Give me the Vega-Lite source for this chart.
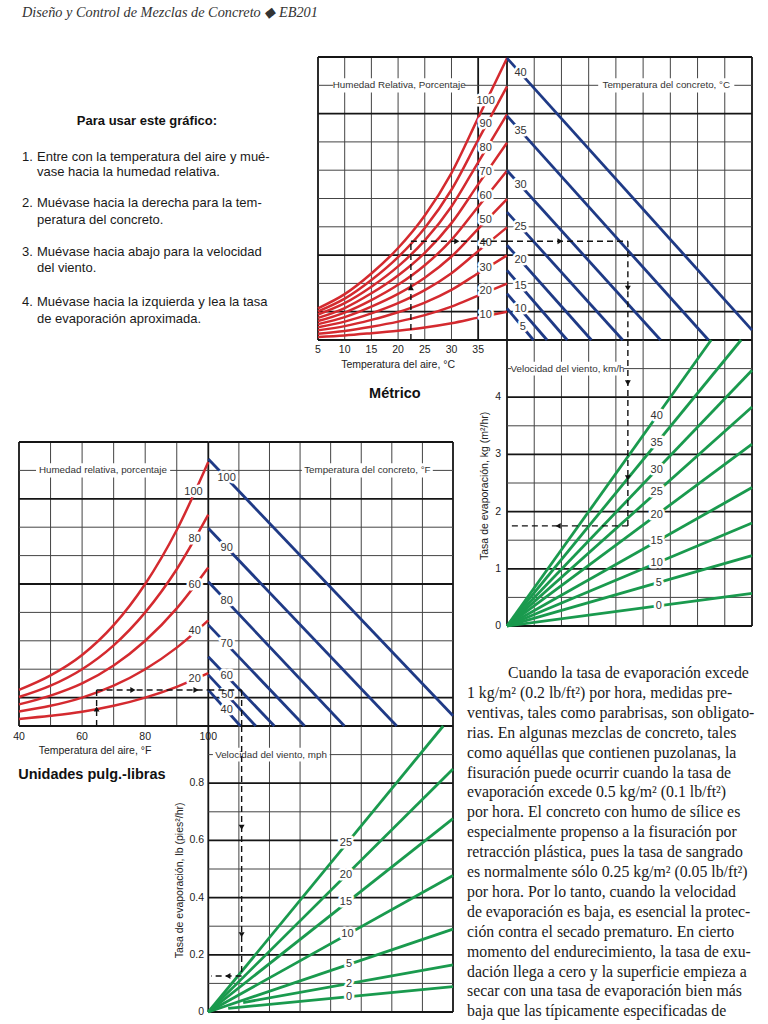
{
"$schema":"https://vega.github.io/schema/vega-lite/v6.json",
"width":768,"height":1024,"padding":0,"autosize":"none","background":"white",
"config":{"view":{"stroke":null},"text":{"font":"Liberation Sans","color":"#222"}},
"resolve":{"scale":{"x":"independent","y":"independent"}},
"layer":[
{"layer":[
{"data":{"values":[{"t":10},{"t":15},{"t":20},{"t":25},{"t":30}]},"mark":{"type":"rule","color":"#444","strokeWidth":1},
 "encoding":{"x":{"field":"t","type":"quantitative","scale":{"domain":[5,40.4],"range":[318,507],"nice":false,"zero":false},"axis":null},"y":{"datum":0,"type":"quantitative","scale":{"domain":[0,10],"range":[340,57],"nice":false,"zero":false},"axis":null},"y2":{"datum":10}}},
{"data":{"values":[{"t":5},{"t":35},{"t":40.4}]},"mark":{"type":"rule","color":"#151515","strokeWidth":1.8},
 "encoding":{"x":{"field":"t","type":"quantitative","scale":{"domain":[5,40.4],"range":[318,507],"nice":false,"zero":false},"axis":null},"y":{"datum":0,"type":"quantitative","scale":{"domain":[0,10],"range":[340,57],"nice":false,"zero":false},"axis":null},"y2":{"datum":10}}},
{"data":{"values":[{"v":2},{"v":4},{"v":5},{"v":6},{"v":7},{"v":9}]},"mark":{"type":"rule","color":"#444","strokeWidth":1},
 "encoding":{"y":{"field":"v","type":"quantitative","scale":{"domain":[0,10],"range":[340,57],"nice":false,"zero":false},"axis":null},"x":{"datum":5,"type":"quantitative","scale":{"domain":[5,40.4],"range":[318,507],"nice":false,"zero":false},"axis":null},"x2":{"datum":40.4}}},
{"data":{"values":[{"v":0},{"v":1},{"v":3},{"v":8},{"v":10}]},"mark":{"type":"rule","color":"#151515","strokeWidth":1.8},
 "encoding":{"y":{"field":"v","type":"quantitative","scale":{"domain":[0,10],"range":[340,57],"nice":false,"zero":false},"axis":null},"x":{"datum":5,"type":"quantitative","scale":{"domain":[5,40.4],"range":[318,507],"nice":false,"zero":false},"axis":null},"x2":{"datum":40.4}}},
{"data":{"values":[{"x1":7.8,"x2":32.5,"y1":8.75,"y2":9.25}]},"mark":{"type":"rect","fill":"white"},
 "encoding":{"x":{"field":"x1","type":"quantitative","scale":{"domain":[5,40.4],"range":[318,507],"nice":false,"zero":false},"axis":null},"x2":{"field":"x2"},"y":{"field":"y1","type":"quantitative","scale":{"domain":[0,10],"range":[340,57],"nice":false,"zero":false},"axis":null},"y2":{"field":"y2"}}},
{"data":{"values":[{"t":20.2,"v":9,"label":"Humedad Relativa, Porcentaje"}]},"mark":{"type":"text","fontSize":9.8,"color":"#333","baseline":"middle"},
 "encoding":{"x":{"field":"t","type":"quantitative","scale":{"domain":[5,40.4],"range":[318,507],"nice":false,"zero":false},"axis":null},"y":{"field":"v","type":"quantitative","scale":{"domain":[0,10],"range":[340,57],"nice":false,"zero":false},"axis":null},"text":{"field":"label"}}},
{"data":{"values":[
{"rh":100,"t":5,"v":1.12},{"rh":100,"t":10,"v":1.62},{"rh":100,"t":15,"v":2.35},{"rh":100,"t":20,"v":3.25},{"rh":100,"t":25,"v":4.40},{"rh":100,"t":30,"v":5.90},{"rh":100,"t":35,"v":7.85},{"rh":100,"t":40.4,"v":9.96},
{"rh":90,"t":5,"v":1.01},{"rh":90,"t":10,"v":1.46},{"rh":90,"t":15,"v":2.12},{"rh":90,"t":20,"v":2.93},{"rh":90,"t":25,"v":3.96},{"rh":90,"t":30,"v":5.31},{"rh":90,"t":35,"v":7.07},{"rh":90,"t":40.4,"v":8.96},
{"rh":80,"t":5,"v":0.90},{"rh":80,"t":10,"v":1.30},{"rh":80,"t":15,"v":1.88},{"rh":80,"t":20,"v":2.60},{"rh":80,"t":25,"v":3.52},{"rh":80,"t":30,"v":4.72},{"rh":80,"t":35,"v":6.28},{"rh":80,"t":40.4,"v":7.97},
{"rh":70,"t":5,"v":0.78},{"rh":70,"t":10,"v":1.13},{"rh":70,"t":15,"v":1.65},{"rh":70,"t":20,"v":2.28},{"rh":70,"t":25,"v":3.08},{"rh":70,"t":30,"v":4.13},{"rh":70,"t":35,"v":5.50},{"rh":70,"t":40.4,"v":6.97},
{"rh":60,"t":5,"v":0.67},{"rh":60,"t":10,"v":0.97},{"rh":60,"t":15,"v":1.41},{"rh":60,"t":20,"v":1.95},{"rh":60,"t":25,"v":2.64},{"rh":60,"t":30,"v":3.54},{"rh":60,"t":35,"v":4.71},{"rh":60,"t":40.4,"v":5.98},
{"rh":50,"t":5,"v":0.56},{"rh":50,"t":10,"v":0.81},{"rh":50,"t":15,"v":1.18},{"rh":50,"t":20,"v":1.63},{"rh":50,"t":25,"v":2.20},{"rh":50,"t":30,"v":2.95},{"rh":50,"t":35,"v":3.93},{"rh":50,"t":40.4,"v":4.98},
{"rh":40,"t":5,"v":0.45},{"rh":40,"t":10,"v":0.65},{"rh":40,"t":15,"v":0.94},{"rh":40,"t":20,"v":1.30},{"rh":40,"t":25,"v":1.76},{"rh":40,"t":30,"v":2.36},{"rh":40,"t":35,"v":3.14},{"rh":40,"t":40.4,"v":3.98},
{"rh":30,"t":5,"v":0.34},{"rh":30,"t":10,"v":0.49},{"rh":30,"t":15,"v":0.71},{"rh":30,"t":20,"v":0.98},{"rh":30,"t":25,"v":1.32},{"rh":30,"t":30,"v":1.77},{"rh":30,"t":35,"v":2.36},{"rh":30,"t":40.4,"v":2.99},
{"rh":20,"t":5,"v":0.22},{"rh":20,"t":10,"v":0.32},{"rh":20,"t":15,"v":0.47},{"rh":20,"t":20,"v":0.65},{"rh":20,"t":25,"v":0.88},{"rh":20,"t":30,"v":1.18},{"rh":20,"t":35,"v":1.57},{"rh":20,"t":40.4,"v":1.99},
{"rh":10,"t":5,"v":0.11},{"rh":10,"t":10,"v":0.16},{"rh":10,"t":15,"v":0.24},{"rh":10,"t":20,"v":0.33},{"rh":10,"t":25,"v":0.44},{"rh":10,"t":30,"v":0.59},{"rh":10,"t":35,"v":0.79},{"rh":10,"t":40.4,"v":1.00}
]},"mark":{"type":"line","color":"#d42a2f","strokeWidth":2.5,"interpolate":"monotone"},
 "encoding":{"x":{"field":"t","type":"quantitative","scale":{"domain":[5,40.4],"range":[318,507],"nice":false,"zero":false},"axis":null},"y":{"field":"v","type":"quantitative","scale":{"domain":[0,10],"range":[340,57],"nice":false,"zero":false},"axis":null},"detail":{"field":"rh"}}},
{"data":{"values":[{"t":36.4,"v":8.45,"label":"100"},{"t":36.4,"v":7.62,"label":"90"},{"t":36.4,"v":6.78,"label":"80"},{"t":36.4,"v":5.95,"label":"70"},{"t":36.4,"v":5.1,"label":"60"},{"t":36.4,"v":4.25,"label":"50"},{"t":36.4,"v":3.42,"label":"40"},{"t":36.4,"v":2.55,"label":"30"},{"t":36.4,"v":1.72,"label":"20"},{"t":36.4,"v":0.88,"label":"10"}]},
 "mark":{"type":"text","fontSize":11,"baseline":"middle","stroke":"white","strokeWidth":5,"strokeJoin":"round"},
 "encoding":{"x":{"field":"t","type":"quantitative","scale":{"domain":[5,40.4],"range":[318,507],"nice":false,"zero":false},"axis":null},"y":{"field":"v","type":"quantitative","scale":{"domain":[0,10],"range":[340,57],"nice":false,"zero":false},"axis":null},"text":{"field":"label"}}},
{"data":{"values":[{"t":36.4,"v":8.45,"label":"100"},{"t":36.4,"v":7.62,"label":"90"},{"t":36.4,"v":6.78,"label":"80"},{"t":36.4,"v":5.95,"label":"70"},{"t":36.4,"v":5.1,"label":"60"},{"t":36.4,"v":4.25,"label":"50"},{"t":36.4,"v":3.42,"label":"40"},{"t":36.4,"v":2.55,"label":"30"},{"t":36.4,"v":1.72,"label":"20"},{"t":36.4,"v":0.88,"label":"10"}]},
 "mark":{"type":"text","fontSize":11,"baseline":"middle","color":"#333"},
 "encoding":{"x":{"field":"t","type":"quantitative","scale":{"domain":[5,40.4],"range":[318,507],"nice":false,"zero":false},"axis":null},"y":{"field":"v","type":"quantitative","scale":{"domain":[0,10],"range":[340,57],"nice":false,"zero":false},"axis":null},"text":{"field":"label"}}},
{"data":{"values":[{"x1":22.4,"y1":0,"x2":22.4,"y2":3.49},{"x1":22.4,"y1":3.49,"x2":40.4,"y2":3.49}]},"mark":{"type":"rule","color":"#111","strokeWidth":1.4,"strokeDash":[6,4]},
 "encoding":{"x":{"field":"x1","type":"quantitative","scale":{"domain":[5,40.4],"range":[318,507],"nice":false,"zero":false},"axis":null},"x2":{"field":"x2"},"y":{"field":"y1","type":"quantitative","scale":{"domain":[0,10],"range":[340,57],"nice":false,"zero":false},"axis":null},"y2":{"field":"y2"}}},
{"data":{"values":[{"t":22.4,"v":1.85,"dir":"up"},{"t":31,"v":3.49,"dir":"right"}]},"mark":{"type":"point","filled":true,"color":"#111","size":35,"opacity":1},
 "encoding":{"x":{"field":"t","type":"quantitative","scale":{"domain":[5,40.4],"range":[318,507],"nice":false,"zero":false},"axis":null},"y":{"field":"v","type":"quantitative","scale":{"domain":[0,10],"range":[340,57],"nice":false,"zero":false},"axis":null},"shape":{"field":"dir","type":"nominal","scale":{"domain":["up","down","left","right"],"range":["triangle-up","triangle-down","triangle-left","triangle-right"]},"legend":null}}},
{"data":{"values":[{"t":5},{"t":10},{"t":15},{"t":20},{"t":25},{"t":30},{"t":35}]},"mark":{"type":"text","fontSize":10.5,"baseline":"middle"},
 "encoding":{"x":{"field":"t","type":"quantitative","scale":{"domain":[5,40.4],"range":[318,507],"nice":false,"zero":false},"axis":null},"y":{"datum":-0.37,"type":"quantitative","scale":{"domain":[0,10],"range":[340,57],"nice":false,"zero":false},"axis":null},"text":{"field":"t"}}},
{"data":{"values":[{"t":20,"v":-0.9,"label":"Temperatura del aire, °C"}]},"mark":{"type":"text","fontSize":10.5,"baseline":"middle"},
 "encoding":{"x":{"field":"t","type":"quantitative","scale":{"domain":[5,40.4],"range":[318,507],"nice":false,"zero":false},"axis":null},"y":{"field":"v","type":"quantitative","scale":{"domain":[0,10],"range":[340,57],"nice":false,"zero":false},"axis":null},"text":{"field":"label"}}},
{"data":{"values":[{"t":19.4,"v":-1.91,"label":"Métrico"}]},"mark":{"type":"text","fontSize":14.5,"fontWeight":"bold","baseline":"middle","color":"#111"},
 "encoding":{"x":{"field":"t","type":"quantitative","scale":{"domain":[5,40.4],"range":[318,507],"nice":false,"zero":false},"axis":null},"y":{"field":"v","type":"quantitative","scale":{"domain":[0,10],"range":[340,57],"nice":false,"zero":false},"axis":null},"text":{"field":"label"}}}
]},
{"layer":[
{"data":{"values":[{"c":1},{"c":2},{"c":3},{"c":4},{"c":5},{"c":6},{"c":7},{"c":8}]},"mark":{"type":"rule","color":"#444","strokeWidth":1},
 "encoding":{"x":{"field":"c","type":"quantitative","scale":{"domain":[0,9],"range":[507,752],"nice":false,"zero":false},"axis":null},"y":{"datum":0,"type":"quantitative","scale":{"domain":[0,10],"range":[340,57],"nice":false,"zero":false},"axis":null},"y2":{"datum":10}}},
{"data":{"values":[{"c":9}]},"mark":{"type":"rule","color":"#151515","strokeWidth":1.8},
 "encoding":{"x":{"field":"c","type":"quantitative","scale":{"domain":[0,9],"range":[507,752],"nice":false,"zero":false},"axis":null},"y":{"datum":0,"type":"quantitative","scale":{"domain":[0,10],"range":[340,57],"nice":false,"zero":false},"axis":null},"y2":{"datum":10}}},
{"data":{"values":[{"v":2},{"v":4},{"v":5},{"v":6},{"v":7},{"v":9}]},"mark":{"type":"rule","color":"#444","strokeWidth":1},
 "encoding":{"y":{"field":"v","type":"quantitative","scale":{"domain":[0,10],"range":[340,57],"nice":false,"zero":false},"axis":null},"x":{"datum":0,"type":"quantitative","scale":{"domain":[0,9],"range":[507,752],"nice":false,"zero":false},"axis":null},"x2":{"datum":9}}},
{"data":{"values":[{"v":0},{"v":1},{"v":3},{"v":8},{"v":10}]},"mark":{"type":"rule","color":"#151515","strokeWidth":1.8},
 "encoding":{"y":{"field":"v","type":"quantitative","scale":{"domain":[0,10],"range":[340,57],"nice":false,"zero":false},"axis":null},"x":{"datum":0,"type":"quantitative","scale":{"domain":[0,9],"range":[507,752],"nice":false,"zero":false},"axis":null},"x2":{"datum":9}}},
{"data":{"values":[{"x1":3.35,"x2":8.35,"y1":8.75,"y2":9.25}]},"mark":{"type":"rect","fill":"white"},
 "encoding":{"x":{"field":"x1","type":"quantitative","scale":{"domain":[0,9],"range":[507,752],"nice":false,"zero":false},"axis":null},"x2":{"field":"x2"},"y":{"field":"y1","type":"quantitative","scale":{"domain":[0,10],"range":[340,57],"nice":false,"zero":false},"axis":null},"y2":{"field":"y2"}}},
{"data":{"values":[{"c":5.85,"v":9,"label":"Temperatura del concreto, °C"}]},"mark":{"type":"text","fontSize":9.8,"color":"#333","baseline":"middle"},
 "encoding":{"x":{"field":"c","type":"quantitative","scale":{"domain":[0,9],"range":[507,752],"nice":false,"zero":false},"axis":null},"y":{"field":"v","type":"quantitative","scale":{"domain":[0,10],"range":[340,57],"nice":false,"zero":false},"axis":null},"text":{"field":"label"}}},
{"data":{"values":[
{"tc":5,"c":0,"v":1.12},{"tc":5,"c":0.97,"v":0},
{"tc":10,"c":0,"v":1.64},{"tc":10,"c":1.47,"v":0},
{"tc":15,"c":0,"v":2.46},{"tc":15,"c":2.21,"v":0},
{"tc":20,"c":0,"v":3.35},{"tc":20,"c":3.10,"v":0},
{"tc":25,"c":0,"v":4.52},{"tc":25,"c":4.25,"v":0},
{"tc":30,"c":0,"v":5.99},{"tc":30,"c":5.64,"v":0},
{"tc":35,"c":0,"v":7.92},{"tc":35,"c":7.40,"v":0},
{"tc":40,"c":0,"v":9.96},{"tc":40,"c":9,"v":0.35}
]},"mark":{"type":"line","color":"#1f3a86","strokeWidth":2.8},
 "encoding":{"x":{"field":"c","type":"quantitative","scale":{"domain":[0,9],"range":[507,752],"nice":false,"zero":false},"axis":null},"y":{"field":"v","type":"quantitative","scale":{"domain":[0,10],"range":[340,57],"nice":false,"zero":false},"axis":null},"detail":{"field":"tc"}}},
{"data":{"values":[{"c":0.5,"v":9.43,"label":"40"},{"c":0.5,"v":7.39,"label":"35"},{"c":0.5,"v":5.46,"label":"30"},{"c":0.5,"v":3.99,"label":"25"},{"c":0.5,"v":2.81,"label":"20"},{"c":0.5,"v":1.9,"label":"15"},{"c":0.5,"v":1.08,"label":"10"},{"c":0.58,"v":0.47,"label":"5"}]},
 "mark":{"type":"text","fontSize":11,"baseline":"middle","stroke":"white","strokeWidth":5,"strokeJoin":"round"},
 "encoding":{"x":{"field":"c","type":"quantitative","scale":{"domain":[0,9],"range":[507,752],"nice":false,"zero":false},"axis":null},"y":{"field":"v","type":"quantitative","scale":{"domain":[0,10],"range":[340,57],"nice":false,"zero":false},"axis":null},"text":{"field":"label"}}},
{"data":{"values":[{"c":0.5,"v":9.43,"label":"40"},{"c":0.5,"v":7.39,"label":"35"},{"c":0.5,"v":5.46,"label":"30"},{"c":0.5,"v":3.99,"label":"25"},{"c":0.5,"v":2.81,"label":"20"},{"c":0.5,"v":1.9,"label":"15"},{"c":0.5,"v":1.08,"label":"10"},{"c":0.58,"v":0.47,"label":"5"}]},
 "mark":{"type":"text","fontSize":11,"baseline":"middle","color":"#333"},
 "encoding":{"x":{"field":"c","type":"quantitative","scale":{"domain":[0,9],"range":[507,752],"nice":false,"zero":false},"axis":null},"y":{"field":"v","type":"quantitative","scale":{"domain":[0,10],"range":[340,57],"nice":false,"zero":false},"axis":null},"text":{"field":"label"}}},
{"data":{"values":[{"x1":0,"y1":3.49,"x2":4.44,"y2":3.49},{"x1":4.44,"y1":3.49,"x2":4.44,"y2":0}]},"mark":{"type":"rule","color":"#111","strokeWidth":1.4,"strokeDash":[6,4]},
 "encoding":{"x":{"field":"x1","type":"quantitative","scale":{"domain":[0,9],"range":[507,752],"nice":false,"zero":false},"axis":null},"x2":{"field":"x2"},"y":{"field":"y1","type":"quantitative","scale":{"domain":[0,10],"range":[340,57],"nice":false,"zero":false},"axis":null},"y2":{"field":"y2"}}},
{"data":{"values":[{"c":1.95,"v":3.49,"dir":"right"},{"c":4.44,"v":1.83,"dir":"down"}]},"mark":{"type":"point","filled":true,"color":"#111","size":35,"opacity":1},
 "encoding":{"x":{"field":"c","type":"quantitative","scale":{"domain":[0,9],"range":[507,752],"nice":false,"zero":false},"axis":null},"y":{"field":"v","type":"quantitative","scale":{"domain":[0,10],"range":[340,57],"nice":false,"zero":false},"axis":null},"shape":{"field":"dir","type":"nominal","scale":{"domain":["up","down","left","right"],"range":["triangle-up","triangle-down","triangle-left","triangle-right"]},"legend":null}}}
]},
{"layer":[
{"data":{"values":[{"c":1},{"c":2},{"c":3},{"c":4},{"c":5},{"c":6},{"c":7},{"c":8}]},"mark":{"type":"rule","color":"#444","strokeWidth":1},
 "encoding":{"x":{"field":"c","type":"quantitative","scale":{"domain":[0,9],"range":[507,752],"nice":false,"zero":false},"axis":null},"y":{"datum":0,"type":"quantitative","scale":{"domain":[0,5],"range":[626,340],"nice":false,"zero":false},"axis":null},"y2":{"datum":5}}},
{"data":{"values":[{"c":0},{"c":9}]},"mark":{"type":"rule","color":"#151515","strokeWidth":1.8},
 "encoding":{"x":{"field":"c","type":"quantitative","scale":{"domain":[0,9],"range":[507,752],"nice":false,"zero":false},"axis":null},"y":{"datum":0,"type":"quantitative","scale":{"domain":[0,5],"range":[626,340],"nice":false,"zero":false},"axis":null},"y2":{"datum":5}}},
{"data":{"values":[{"v":0.5},{"v":1.5},{"v":2.5},{"v":3.5},{"v":4.5}]},"mark":{"type":"rule","color":"#444","strokeWidth":1},
 "encoding":{"y":{"field":"v","type":"quantitative","scale":{"domain":[0,5],"range":[626,340],"nice":false,"zero":false},"axis":null},"x":{"datum":0,"type":"quantitative","scale":{"domain":[0,9],"range":[507,752],"nice":false,"zero":false},"axis":null},"x2":{"datum":9}}},
{"data":{"values":[{"v":0},{"v":1},{"v":2},{"v":3},{"v":4}]},"mark":{"type":"rule","color":"#151515","strokeWidth":1.8},
 "encoding":{"y":{"field":"v","type":"quantitative","scale":{"domain":[0,5],"range":[626,340],"nice":false,"zero":false},"axis":null},"x":{"datum":0,"type":"quantitative","scale":{"domain":[0,9],"range":[507,752],"nice":false,"zero":false},"axis":null},"x2":{"datum":9}}},
{"data":{"values":[{"x1":0.15,"x2":4.3,"y1":4.38,"y2":4.62}]},"mark":{"type":"rect","fill":"white"},
 "encoding":{"x":{"field":"x1","type":"quantitative","scale":{"domain":[0,9],"range":[507,752],"nice":false,"zero":false},"axis":null},"x2":{"field":"x2"},"y":{"field":"y1","type":"quantitative","scale":{"domain":[0,5],"range":[626,340],"nice":false,"zero":false},"axis":null},"y2":{"field":"y2"}}},
{"data":{"values":[{"c":2.22,"v":4.5,"label":"Velocidad del viento, km/h"}]},"mark":{"type":"text","fontSize":9.8,"color":"#333","baseline":"middle"},
 "encoding":{"x":{"field":"c","type":"quantitative","scale":{"domain":[0,9],"range":[507,752],"nice":false,"zero":false},"axis":null},"y":{"field":"v","type":"quantitative","scale":{"domain":[0,5],"range":[626,340],"nice":false,"zero":false},"axis":null},"text":{"field":"label"}}},
{"data":{"values":[
{"w":0,"c":0,"v":0},{"w":0,"c":9,"v":0.57},
{"w":5,"c":0,"v":0},{"w":5,"c":9,"v":1.23},
{"w":10,"c":0,"v":0},{"w":10,"c":9,"v":1.80},
{"w":15,"c":0,"v":0},{"w":15,"c":9,"v":2.42},
{"w":20,"c":0,"v":0},{"w":20,"c":9,"v":3.18},
{"w":25,"c":0,"v":0},{"w":25,"c":9,"v":3.83},
{"w":30,"c":0,"v":0},{"w":30,"c":9,"v":4.47},
{"w":35,"c":0,"v":0},{"w":35,"c":8.6,"v":5.0},
{"w":40,"c":0,"v":0},{"w":40,"c":7.5,"v":5.0}
]},"mark":{"type":"line","color":"#1a9a4e","strokeWidth":2.8},
 "encoding":{"x":{"field":"c","type":"quantitative","scale":{"domain":[0,9],"range":[507,752],"nice":false,"zero":false},"axis":null},"y":{"field":"v","type":"quantitative","scale":{"domain":[0,5],"range":[626,340],"nice":false,"zero":false},"axis":null},"detail":{"field":"w"}}},
{"data":{"values":[{"c":5.5,"v":3.67,"label":"40"},{"c":5.5,"v":3.2,"label":"35"},{"c":5.5,"v":2.73,"label":"30"},{"c":5.5,"v":2.34,"label":"25"},{"c":5.5,"v":1.94,"label":"20"},{"c":5.5,"v":1.48,"label":"15"},{"c":5.5,"v":1.1,"label":"10"},{"c":5.58,"v":0.76,"label":"5"},{"c":5.58,"v":0.35,"label":"0"}]},
 "mark":{"type":"text","fontSize":11,"baseline":"middle","stroke":"white","strokeWidth":5,"strokeJoin":"round"},
 "encoding":{"x":{"field":"c","type":"quantitative","scale":{"domain":[0,9],"range":[507,752],"nice":false,"zero":false},"axis":null},"y":{"field":"v","type":"quantitative","scale":{"domain":[0,5],"range":[626,340],"nice":false,"zero":false},"axis":null},"text":{"field":"label"}}},
{"data":{"values":[{"c":5.5,"v":3.67,"label":"40"},{"c":5.5,"v":3.2,"label":"35"},{"c":5.5,"v":2.73,"label":"30"},{"c":5.5,"v":2.34,"label":"25"},{"c":5.5,"v":1.94,"label":"20"},{"c":5.5,"v":1.48,"label":"15"},{"c":5.5,"v":1.1,"label":"10"},{"c":5.58,"v":0.76,"label":"5"},{"c":5.58,"v":0.35,"label":"0"}]},
 "mark":{"type":"text","fontSize":11,"baseline":"middle","color":"#333"},
 "encoding":{"x":{"field":"c","type":"quantitative","scale":{"domain":[0,9],"range":[507,752],"nice":false,"zero":false},"axis":null},"y":{"field":"v","type":"quantitative","scale":{"domain":[0,5],"range":[626,340],"nice":false,"zero":false},"axis":null},"text":{"field":"label"}}},
{"data":{"values":[{"v":0},{"v":1},{"v":2},{"v":3},{"v":4}]},"mark":{"type":"text","fontSize":10.5,"baseline":"middle","align":"right"},
 "encoding":{"y":{"field":"v","type":"quantitative","scale":{"domain":[0,5],"range":[626,340],"nice":false,"zero":false},"axis":null},"x":{"datum":-0.22,"type":"quantitative","scale":{"domain":[0,9],"range":[507,752],"nice":false,"zero":false},"axis":null},"text":{"field":"v"}}},
{"data":{"values":[{"c":-0.81,"v":2.45,"label":"Tasa de evaporación, kg (m²/hr)"}]},"mark":{"type":"text","fontSize":10.5,"baseline":"middle","angle":270},
 "encoding":{"x":{"field":"c","type":"quantitative","scale":{"domain":[0,9],"range":[507,752],"nice":false,"zero":false},"axis":null},"y":{"field":"v","type":"quantitative","scale":{"domain":[0,5],"range":[626,340],"nice":false,"zero":false},"axis":null},"text":{"field":"label"}}},
{"data":{"values":[{"x1":4.44,"y1":5,"x2":4.44,"y2":1.75},{"x1":4.44,"y1":1.75,"x2":0.17,"y2":1.75}]},"mark":{"type":"rule","color":"#111","strokeWidth":1.4,"strokeDash":[6,4]},
 "encoding":{"x":{"field":"x1","type":"quantitative","scale":{"domain":[0,9],"range":[507,752],"nice":false,"zero":false},"axis":null},"x2":{"field":"x2"},"y":{"field":"y1","type":"quantitative","scale":{"domain":[0,5],"range":[626,340],"nice":false,"zero":false},"axis":null},"y2":{"field":"y2"}}},
{"data":{"values":[{"c":4.44,"v":4.25,"dir":"down"},{"c":4.44,"v":2.59,"dir":"down"},{"c":1.88,"v":1.75,"dir":"left"}]},"mark":{"type":"point","filled":true,"color":"#111","size":35,"opacity":1},
 "encoding":{"x":{"field":"c","type":"quantitative","scale":{"domain":[0,9],"range":[507,752],"nice":false,"zero":false},"axis":null},"y":{"field":"v","type":"quantitative","scale":{"domain":[0,5],"range":[626,340],"nice":false,"zero":false},"axis":null},"shape":{"field":"dir","type":"nominal","scale":{"domain":["up","down","left","right"],"range":["triangle-up","triangle-down","triangle-left","triangle-right"]},"legend":null}}}
]},
{"layer":[
{"data":{"values":[{"t":50},{"t":60},{"t":70},{"t":80},{"t":90}]},"mark":{"type":"rule","color":"#444","strokeWidth":1},
 "encoding":{"x":{"field":"t","type":"quantitative","scale":{"domain":[40,100],"range":[19,208.3],"nice":false,"zero":false},"axis":null},"y":{"datum":0,"type":"quantitative","scale":{"domain":[0,10],"range":[726,442],"nice":false,"zero":false},"axis":null},"y2":{"datum":10}}},
{"data":{"values":[{"t":40},{"t":100}]},"mark":{"type":"rule","color":"#151515","strokeWidth":1.8},
 "encoding":{"x":{"field":"t","type":"quantitative","scale":{"domain":[40,100],"range":[19,208.3],"nice":false,"zero":false},"axis":null},"y":{"datum":0,"type":"quantitative","scale":{"domain":[0,10],"range":[726,442],"nice":false,"zero":false},"axis":null},"y2":{"datum":10}}},
{"data":{"values":[{"v":2},{"v":3},{"v":4},{"v":6},{"v":7},{"v":9}]},"mark":{"type":"rule","color":"#444","strokeWidth":1},
 "encoding":{"y":{"field":"v","type":"quantitative","scale":{"domain":[0,10],"range":[726,442],"nice":false,"zero":false},"axis":null},"x":{"datum":40,"type":"quantitative","scale":{"domain":[40,100],"range":[19,208.3],"nice":false,"zero":false},"axis":null},"x2":{"datum":100}}},
{"data":{"values":[{"v":0},{"v":1},{"v":5},{"v":8},{"v":10}]},"mark":{"type":"rule","color":"#151515","strokeWidth":1.8},
 "encoding":{"y":{"field":"v","type":"quantitative","scale":{"domain":[0,10],"range":[726,442],"nice":false,"zero":false},"axis":null},"x":{"datum":40,"type":"quantitative","scale":{"domain":[40,100],"range":[19,208.3],"nice":false,"zero":false},"axis":null},"x2":{"datum":100}}},
{"data":{"values":[{"x1":45.4,"x2":87.9,"y1":8.75,"y2":9.25}]},"mark":{"type":"rect","fill":"white"},
 "encoding":{"x":{"field":"x1","type":"quantitative","scale":{"domain":[40,100],"range":[19,208.3],"nice":false,"zero":false},"axis":null},"x2":{"field":"x2"},"y":{"field":"y1","type":"quantitative","scale":{"domain":[0,10],"range":[726,442],"nice":false,"zero":false},"axis":null},"y2":{"field":"y2"}}},
{"data":{"values":[{"t":66.6,"v":9,"label":"Humedad relativa, porcentaje"}]},"mark":{"type":"text","fontSize":9.8,"color":"#333","baseline":"middle"},
 "encoding":{"x":{"field":"t","type":"quantitative","scale":{"domain":[40,100],"range":[19,208.3],"nice":false,"zero":false},"axis":null},"y":{"field":"v","type":"quantitative","scale":{"domain":[0,10],"range":[726,442],"nice":false,"zero":false},"axis":null},"text":{"field":"label"}}},
{"data":{"values":[
{"rh":100,"t":40,"v":1.27},{"rh":100,"t":50,"v":1.78},{"rh":100,"t":60,"v":2.50},{"rh":100,"t":70,"v":3.55},{"rh":100,"t":80,"v":5.00},{"rh":100,"t":90,"v":6.90},{"rh":100,"t":100,"v":9.30},
{"rh":80,"t":40,"v":1.02},{"rh":80,"t":50,"v":1.42},{"rh":80,"t":60,"v":2.00},{"rh":80,"t":70,"v":2.84},{"rh":80,"t":80,"v":4.00},{"rh":80,"t":90,"v":5.52},{"rh":80,"t":100,"v":7.44},
{"rh":60,"t":40,"v":0.76},{"rh":60,"t":50,"v":1.07},{"rh":60,"t":60,"v":1.50},{"rh":60,"t":70,"v":2.13},{"rh":60,"t":80,"v":3.00},{"rh":60,"t":90,"v":4.14},{"rh":60,"t":100,"v":5.58},
{"rh":40,"t":40,"v":0.51},{"rh":40,"t":50,"v":0.71},{"rh":40,"t":60,"v":1.00},{"rh":40,"t":70,"v":1.42},{"rh":40,"t":80,"v":2.00},{"rh":40,"t":90,"v":2.76},{"rh":40,"t":100,"v":3.72},
{"rh":20,"t":40,"v":0.25},{"rh":20,"t":50,"v":0.36},{"rh":20,"t":60,"v":0.50},{"rh":20,"t":70,"v":0.71},{"rh":20,"t":80,"v":1.00},{"rh":20,"t":90,"v":1.38},{"rh":20,"t":100,"v":1.86}
]},"mark":{"type":"line","color":"#d42a2f","strokeWidth":2.5,"interpolate":"monotone"},
 "encoding":{"x":{"field":"t","type":"quantitative","scale":{"domain":[40,100],"range":[19,208.3],"nice":false,"zero":false},"axis":null},"y":{"field":"v","type":"quantitative","scale":{"domain":[0,10],"range":[726,442],"nice":false,"zero":false},"axis":null},"detail":{"field":"rh"}}},
{"data":{"values":[{"t":95.3,"v":8.25,"label":"100"},{"t":95.7,"v":6.6,"label":"80"},{"t":95.7,"v":4.95,"label":"60"},{"t":95.7,"v":3.35,"label":"40"},{"t":95.7,"v":1.65,"label":"20"}]},
 "mark":{"type":"text","fontSize":11,"baseline":"middle","stroke":"white","strokeWidth":5,"strokeJoin":"round"},
 "encoding":{"x":{"field":"t","type":"quantitative","scale":{"domain":[40,100],"range":[19,208.3],"nice":false,"zero":false},"axis":null},"y":{"field":"v","type":"quantitative","scale":{"domain":[0,10],"range":[726,442],"nice":false,"zero":false},"axis":null},"text":{"field":"label"}}},
{"data":{"values":[{"t":95.3,"v":8.25,"label":"100"},{"t":95.7,"v":6.6,"label":"80"},{"t":95.7,"v":4.95,"label":"60"},{"t":95.7,"v":3.35,"label":"40"},{"t":95.7,"v":1.65,"label":"20"}]},
 "mark":{"type":"text","fontSize":11,"baseline":"middle","color":"#333"},
 "encoding":{"x":{"field":"t","type":"quantitative","scale":{"domain":[40,100],"range":[19,208.3],"nice":false,"zero":false},"axis":null},"y":{"field":"v","type":"quantitative","scale":{"domain":[0,10],"range":[726,442],"nice":false,"zero":false},"axis":null},"text":{"field":"label"}}},
{"data":{"values":[{"x1":64.6,"y1":0,"x2":64.6,"y2":1.27},{"x1":64.6,"y1":1.27,"x2":100,"y2":1.27}]},"mark":{"type":"rule","color":"#111","strokeWidth":1.4,"strokeDash":[6,4]},
 "encoding":{"x":{"field":"x1","type":"quantitative","scale":{"domain":[40,100],"range":[19,208.3],"nice":false,"zero":false},"axis":null},"x2":{"field":"x2"},"y":{"field":"y1","type":"quantitative","scale":{"domain":[0,10],"range":[726,442],"nice":false,"zero":false},"axis":null},"y2":{"field":"y2"}}},
{"data":{"values":[{"t":64.6,"v":0.6,"dir":"up"},{"t":76.1,"v":1.27,"dir":"right"},{"t":96.1,"v":1.27,"dir":"right"}]},"mark":{"type":"point","filled":true,"color":"#111","size":35,"opacity":1},
 "encoding":{"x":{"field":"t","type":"quantitative","scale":{"domain":[40,100],"range":[19,208.3],"nice":false,"zero":false},"axis":null},"y":{"field":"v","type":"quantitative","scale":{"domain":[0,10],"range":[726,442],"nice":false,"zero":false},"axis":null},"shape":{"field":"dir","type":"nominal","scale":{"domain":["up","down","left","right"],"range":["triangle-up","triangle-down","triangle-left","triangle-right"]},"legend":null}}},
{"data":{"values":[{"t":40},{"t":60},{"t":80},{"t":100}]},"mark":{"type":"text","fontSize":10.5,"baseline":"middle"},
 "encoding":{"x":{"field":"t","type":"quantitative","scale":{"domain":[40,100],"range":[19,208.3],"nice":false,"zero":false},"axis":null},"y":{"datum":-0.37,"type":"quantitative","scale":{"domain":[0,10],"range":[726,442],"nice":false,"zero":false},"axis":null},"text":{"field":"t"}}},
{"data":{"values":[{"t":64.1,"v":-0.87,"label":"Temperatura del aire, °F"}]},"mark":{"type":"text","fontSize":10.5,"baseline":"middle"},
 "encoding":{"x":{"field":"t","type":"quantitative","scale":{"domain":[40,100],"range":[19,208.3],"nice":false,"zero":false},"axis":null},"y":{"field":"v","type":"quantitative","scale":{"domain":[0,10],"range":[726,442],"nice":false,"zero":false},"axis":null},"text":{"field":"label"}}},
{"data":{"values":[{"t":63.1,"v":-1.73,"label":"Unidades pulg.-libras"}]},"mark":{"type":"text","fontSize":14.5,"fontWeight":"bold","baseline":"middle","color":"#111"},
 "encoding":{"x":{"field":"t","type":"quantitative","scale":{"domain":[40,100],"range":[19,208.3],"nice":false,"zero":false},"axis":null},"y":{"field":"v","type":"quantitative","scale":{"domain":[0,10],"range":[726,442],"nice":false,"zero":false},"axis":null},"text":{"field":"label"}}}
]},
{"layer":[
{"data":{"values":[{"c":1},{"c":2},{"c":3},{"c":4},{"c":5},{"c":6},{"c":7}]},"mark":{"type":"rule","color":"#444","strokeWidth":1},
 "encoding":{"x":{"field":"c","type":"quantitative","scale":{"domain":[0,8],"range":[208.3,453],"nice":false,"zero":false},"axis":null},"y":{"datum":0,"type":"quantitative","scale":{"domain":[0,10],"range":[726,442],"nice":false,"zero":false},"axis":null},"y2":{"datum":10}}},
{"data":{"values":[{"c":8}]},"mark":{"type":"rule","color":"#151515","strokeWidth":1.8},
 "encoding":{"x":{"field":"c","type":"quantitative","scale":{"domain":[0,8],"range":[208.3,453],"nice":false,"zero":false},"axis":null},"y":{"datum":0,"type":"quantitative","scale":{"domain":[0,10],"range":[726,442],"nice":false,"zero":false},"axis":null},"y2":{"datum":10}}},
{"data":{"values":[{"v":2},{"v":3},{"v":4},{"v":6},{"v":7},{"v":9}]},"mark":{"type":"rule","color":"#444","strokeWidth":1},
 "encoding":{"y":{"field":"v","type":"quantitative","scale":{"domain":[0,10],"range":[726,442],"nice":false,"zero":false},"axis":null},"x":{"datum":0,"type":"quantitative","scale":{"domain":[0,8],"range":[208.3,453],"nice":false,"zero":false},"axis":null},"x2":{"datum":8}}},
{"data":{"values":[{"v":0},{"v":1},{"v":5},{"v":8},{"v":10}]},"mark":{"type":"rule","color":"#151515","strokeWidth":1.8},
 "encoding":{"y":{"field":"v","type":"quantitative","scale":{"domain":[0,10],"range":[726,442],"nice":false,"zero":false},"axis":null},"x":{"datum":0,"type":"quantitative","scale":{"domain":[0,8],"range":[208.3,453],"nice":false,"zero":false},"axis":null},"x2":{"datum":8}}},
{"data":{"values":[{"x1":3.06,"x2":7.34,"y1":8.75,"y2":9.25}]},"mark":{"type":"rect","fill":"white"},
 "encoding":{"x":{"field":"x1","type":"quantitative","scale":{"domain":[0,8],"range":[208.3,453],"nice":false,"zero":false},"axis":null},"x2":{"field":"x2"},"y":{"field":"y1","type":"quantitative","scale":{"domain":[0,10],"range":[726,442],"nice":false,"zero":false},"axis":null},"y2":{"field":"y2"}}},
{"data":{"values":[{"c":5.2,"v":9,"label":"Temperatura del concreto, °F"}]},"mark":{"type":"text","fontSize":9.8,"color":"#333","baseline":"middle"},
 "encoding":{"x":{"field":"c","type":"quantitative","scale":{"domain":[0,8],"range":[208.3,453],"nice":false,"zero":false},"axis":null},"y":{"field":"v","type":"quantitative","scale":{"domain":[0,10],"range":[726,442],"nice":false,"zero":false},"axis":null},"text":{"field":"label"}}},
{"data":{"values":[
{"tc":100,"c":0,"v":9.4},{"tc":100,"c":8,"v":0.36},
{"tc":90,"c":0,"v":6.96},{"tc":90,"c":6.16,"v":0},
{"tc":80,"c":0,"v":5.08},{"tc":80,"c":4.45,"v":0},
{"tc":70,"c":0,"v":3.56},{"tc":70,"c":3.15,"v":0},
{"tc":60,"c":0,"v":2.44},{"tc":60,"c":2.16,"v":0},
{"tc":50,"c":0,"v":1.8},{"tc":50,"c":1.55,"v":0},
{"tc":40,"c":0,"v":1.27},{"tc":40,"c":1.05,"v":0}
]},"mark":{"type":"line","color":"#1f3a86","strokeWidth":2.8},
 "encoding":{"x":{"field":"c","type":"quantitative","scale":{"domain":[0,8],"range":[208.3,453],"nice":false,"zero":false},"axis":null},"y":{"field":"v","type":"quantitative","scale":{"domain":[0,10],"range":[726,442],"nice":false,"zero":false},"axis":null},"detail":{"field":"tc"}}},
{"data":{"values":[{"c":0.6,"v":8.72,"label":"100"},{"c":0.6,"v":6.28,"label":"90"},{"c":0.6,"v":4.4,"label":"80"},{"c":0.6,"v":2.88,"label":"70"},{"c":0.6,"v":1.76,"label":"60"},{"c":0.62,"v":1.1,"label":"50"},{"c":0.6,"v":0.55,"label":"40"}]},
 "mark":{"type":"text","fontSize":11,"baseline":"middle","stroke":"white","strokeWidth":5,"strokeJoin":"round"},
 "encoding":{"x":{"field":"c","type":"quantitative","scale":{"domain":[0,8],"range":[208.3,453],"nice":false,"zero":false},"axis":null},"y":{"field":"v","type":"quantitative","scale":{"domain":[0,10],"range":[726,442],"nice":false,"zero":false},"axis":null},"text":{"field":"label"}}},
{"data":{"values":[{"c":0.6,"v":8.72,"label":"100"},{"c":0.6,"v":6.28,"label":"90"},{"c":0.6,"v":4.4,"label":"80"},{"c":0.6,"v":2.88,"label":"70"},{"c":0.6,"v":1.76,"label":"60"},{"c":0.62,"v":1.1,"label":"50"},{"c":0.6,"v":0.55,"label":"40"}]},
 "mark":{"type":"text","fontSize":11,"baseline":"middle","color":"#333"},
 "encoding":{"x":{"field":"c","type":"quantitative","scale":{"domain":[0,8],"range":[208.3,453],"nice":false,"zero":false},"axis":null},"y":{"field":"v","type":"quantitative","scale":{"domain":[0,10],"range":[726,442],"nice":false,"zero":false},"axis":null},"text":{"field":"label"}}},
{"data":{"values":[{"x1":0,"y1":1.27,"x2":1.09,"y2":1.27},{"x1":1.09,"y1":1.27,"x2":1.09,"y2":0}]},"mark":{"type":"rule","color":"#111","strokeWidth":1.4,"strokeDash":[6,4]},
 "encoding":{"x":{"field":"x1","type":"quantitative","scale":{"domain":[0,8],"range":[208.3,453],"nice":false,"zero":false},"axis":null},"x2":{"field":"x2"},"y":{"field":"y1","type":"quantitative","scale":{"domain":[0,10],"range":[726,442],"nice":false,"zero":false},"axis":null},"y2":{"field":"y2"}}}
]},
{"layer":[
{"data":{"values":[{"c":1},{"c":2},{"c":3},{"c":4},{"c":5},{"c":6},{"c":7}]},"mark":{"type":"rule","color":"#444","strokeWidth":1},
 "encoding":{"x":{"field":"c","type":"quantitative","scale":{"domain":[0,8],"range":[208.3,453],"nice":false,"zero":false},"axis":null},"y":{"datum":0,"type":"quantitative","scale":{"domain":[0,1],"range":[1012,726],"nice":false,"zero":false},"axis":null},"y2":{"datum":1}}},
{"data":{"values":[{"c":0},{"c":8}]},"mark":{"type":"rule","color":"#151515","strokeWidth":1.8},
 "encoding":{"x":{"field":"c","type":"quantitative","scale":{"domain":[0,8],"range":[208.3,453],"nice":false,"zero":false},"axis":null},"y":{"datum":0,"type":"quantitative","scale":{"domain":[0,1],"range":[1012,726],"nice":false,"zero":false},"axis":null},"y2":{"datum":1}}},
{"data":{"values":[{"v":0.1},{"v":0.3},{"v":0.5},{"v":0.7},{"v":0.9}]},"mark":{"type":"rule","color":"#444","strokeWidth":1},
 "encoding":{"y":{"field":"v","type":"quantitative","scale":{"domain":[0,1],"range":[1012,726],"nice":false,"zero":false},"axis":null},"x":{"datum":0,"type":"quantitative","scale":{"domain":[0,8],"range":[208.3,453],"nice":false,"zero":false},"axis":null},"x2":{"datum":8}}},
{"data":{"values":[{"v":0},{"v":0.2},{"v":0.4},{"v":0.6},{"v":0.8}]},"mark":{"type":"rule","color":"#151515","strokeWidth":1.8},
 "encoding":{"y":{"field":"v","type":"quantitative","scale":{"domain":[0,1],"range":[1012,726],"nice":false,"zero":false},"axis":null},"x":{"datum":0,"type":"quantitative","scale":{"domain":[0,8],"range":[208.3,453],"nice":false,"zero":false},"axis":null},"x2":{"datum":8}}},
{"data":{"values":[{"x1":0.15,"x2":3.97,"y1":0.876,"y2":0.924}]},"mark":{"type":"rect","fill":"white"},
 "encoding":{"x":{"field":"x1","type":"quantitative","scale":{"domain":[0,8],"range":[208.3,453],"nice":false,"zero":false},"axis":null},"x2":{"field":"x2"},"y":{"field":"y1","type":"quantitative","scale":{"domain":[0,1],"range":[1012,726],"nice":false,"zero":false},"axis":null},"y2":{"field":"y2"}}},
{"data":{"values":[{"c":2.05,"v":0.9,"label":"Velocidad del viento, mph"}]},"mark":{"type":"text","fontSize":9.8,"color":"#333","baseline":"middle"},
 "encoding":{"x":{"field":"c","type":"quantitative","scale":{"domain":[0,8],"range":[208.3,453],"nice":false,"zero":false},"axis":null},"y":{"field":"v","type":"quantitative","scale":{"domain":[0,1],"range":[1012,726],"nice":false,"zero":false},"axis":null},"text":{"field":"label"}}},
{"data":{"values":[
{"w":0,"c":0.65,"v":0.013},{"w":0,"c":8,"v":0.089},
{"w":2,"c":1.14,"v":0.033},{"w":2,"c":8,"v":0.165},
{"w":5,"c":0,"v":0},{"w":5,"c":8,"v":0.29},
{"w":10,"c":0,"v":0},{"w":10,"c":8,"v":0.477},
{"w":15,"c":0,"v":0},{"w":15,"c":8,"v":0.676},
{"w":20,"c":0,"v":0},{"w":20,"c":8,"v":0.85},
{"w":25,"c":0,"v":0},{"w":25,"c":7.68,"v":1.0}
]},"mark":{"type":"line","color":"#1a9a4e","strokeWidth":2.8},
 "encoding":{"x":{"field":"c","type":"quantitative","scale":{"domain":[0,8],"range":[208.3,453],"nice":false,"zero":false},"axis":null},"y":{"field":"v","type":"quantitative","scale":{"domain":[0,1],"range":[1012,726],"nice":false,"zero":false},"axis":null},"detail":{"field":"w"}}},
{"data":{"values":[{"c":4.5,"v":0.59,"label":"25"},{"c":4.5,"v":0.48,"label":"20"},{"c":4.5,"v":0.385,"label":"15"},{"c":4.55,"v":0.272,"label":"10"},{"c":4.6,"v":0.167,"label":"5"},{"c":4.6,"v":0.099,"label":"2"},{"c":4.6,"v":0.054,"label":"0"}]},
 "mark":{"type":"text","fontSize":11,"baseline":"middle","stroke":"white","strokeWidth":5,"strokeJoin":"round"},
 "encoding":{"x":{"field":"c","type":"quantitative","scale":{"domain":[0,8],"range":[208.3,453],"nice":false,"zero":false},"axis":null},"y":{"field":"v","type":"quantitative","scale":{"domain":[0,1],"range":[1012,726],"nice":false,"zero":false},"axis":null},"text":{"field":"label"}}},
{"data":{"values":[{"c":4.5,"v":0.59,"label":"25"},{"c":4.5,"v":0.48,"label":"20"},{"c":4.5,"v":0.385,"label":"15"},{"c":4.55,"v":0.272,"label":"10"},{"c":4.6,"v":0.167,"label":"5"},{"c":4.6,"v":0.099,"label":"2"},{"c":4.6,"v":0.054,"label":"0"}]},
 "mark":{"type":"text","fontSize":11,"baseline":"middle","color":"#333"},
 "encoding":{"x":{"field":"c","type":"quantitative","scale":{"domain":[0,8],"range":[208.3,453],"nice":false,"zero":false},"axis":null},"y":{"field":"v","type":"quantitative","scale":{"domain":[0,1],"range":[1012,726],"nice":false,"zero":false},"axis":null},"text":{"field":"label"}}},
{"data":{"values":[{"v":0},{"v":0.2},{"v":0.4},{"v":0.6},{"v":0.8}]},"mark":{"type":"text","fontSize":10.5,"baseline":"middle","align":"right"},
 "encoding":{"y":{"field":"v","type":"quantitative","scale":{"domain":[0,1],"range":[1012,726],"nice":false,"zero":false},"axis":null},"x":{"datum":-0.14,"type":"quantitative","scale":{"domain":[0,8],"range":[208.3,453],"nice":false,"zero":false},"axis":null},"text":{"field":"v"}}},
{"data":{"values":[{"c":-0.93,"v":0.46,"label":"Tasa de evaporación, lb (pies²/hr)"}]},"mark":{"type":"text","fontSize":10.5,"baseline":"middle","angle":270},
 "encoding":{"x":{"field":"c","type":"quantitative","scale":{"domain":[0,8],"range":[208.3,453],"nice":false,"zero":false},"axis":null},"y":{"field":"v","type":"quantitative","scale":{"domain":[0,1],"range":[1012,726],"nice":false,"zero":false},"axis":null},"text":{"field":"label"}}},
{"data":{"values":[{"x1":1.09,"y1":1,"x2":1.09,"y2":0.126},{"x1":1.09,"y1":0.126,"x2":0.09,"y2":0.126}]},"mark":{"type":"rule","color":"#111","strokeWidth":1.4,"strokeDash":[6,4]},
 "encoding":{"x":{"field":"x1","type":"quantitative","scale":{"domain":[0,8],"range":[208.3,453],"nice":false,"zero":false},"axis":null},"x2":{"field":"x2"},"y":{"field":"y1","type":"quantitative","scale":{"domain":[0,1],"range":[1012,726],"nice":false,"zero":false},"axis":null},"y2":{"field":"y2"}}},
{"data":{"values":[{"c":1.09,"v":0.646,"dir":"down"},{"c":1.09,"v":0.27,"dir":"down"},{"c":0.64,"v":0.126,"dir":"left"}]},"mark":{"type":"point","filled":true,"color":"#111","size":35,"opacity":1},
 "encoding":{"x":{"field":"c","type":"quantitative","scale":{"domain":[0,8],"range":[208.3,453],"nice":false,"zero":false},"axis":null},"y":{"field":"v","type":"quantitative","scale":{"domain":[0,1],"range":[1012,726],"nice":false,"zero":false},"axis":null},"shape":{"field":"dir","type":"nominal","scale":{"domain":["up","down","left","right"],"range":["triangle-up","triangle-down","triangle-left","triangle-right"]},"legend":null}}}
]},
{"layer":[
{"data":{"values":[{"line":-7,"indent":0,"text":"Diseño y Control de Mezclas de Concreto ◆ EB201"}]},"mark":{"type":"text","font":"Liberation Serif","fontStyle":"italic","fontSize":14.3,"align":"left","baseline":"middle","color":"#333"},
 "encoding":{"x":{"field":"indent","type":"quantitative","scale":{"domain":[0,1],"range":[22,37],"nice":false,"zero":false},"axis":null},"y":{"field":"line","type":"quantitative","scale":{"domain":[-7,13],"range":[13.2,321.2],"nice":false,"zero":false},"axis":null},"text":{"field":"text"}}},
{"data":{"values":[{"line":0,"indent":8.33,"text":"Para usar este gráfico:"}]},"mark":{"type":"text","fontSize":13,"fontWeight":"bold","align":"center","baseline":"middle","color":"#111"},
 "encoding":{"x":{"field":"indent","type":"quantitative","scale":{"domain":[0,1],"range":[22,37],"nice":false,"zero":false},"axis":null},"y":{"field":"line","type":"quantitative","scale":{"domain":[-7,13],"range":[13.2,321.2],"nice":false,"zero":false},"axis":null},"text":{"field":"text"}}},
{"data":{"values":[
{"line":2.35,"indent":0,"text":"1."},{"line":2.35,"indent":1,"text":"Entre con la temperatura del aire y mué-"},{"line":3.3,"indent":1,"text":"vase hacia la humedad relativa."},
{"line":5.35,"indent":0,"text":"2."},{"line":5.35,"indent":1,"text":"Muévase hacia la derecha para la tem-"},{"line":6.4,"indent":1,"text":"peratura del concreto."},
{"line":8.5,"indent":0,"text":"3."},{"line":8.5,"indent":1,"text":"Muévase hacia abajo para la velocidad"},{"line":9.55,"indent":1,"text":"del viento."},
{"line":11.75,"indent":0,"text":"4."},{"line":11.75,"indent":1,"text":"Muévase hacia la izquierda y lea la tasa"},{"line":12.85,"indent":1,"text":"de evaporación aproximada."}
]},"mark":{"type":"text","fontSize":13,"align":"left","baseline":"middle","color":"#1a1a1a"},
 "encoding":{"x":{"field":"indent","type":"quantitative","scale":{"domain":[0,1],"range":[22,37],"nice":false,"zero":false},"axis":null},"y":{"field":"line","type":"quantitative","scale":{"domain":[-7,13],"range":[13.2,321.2],"nice":false,"zero":false},"axis":null},"text":{"field":"text"}}}
]},
{"layer":[
{"data":{"values":[
{"line":0,"indent":1,"text":"Cuando la tasa de evaporación excede"},
{"line":1,"indent":0,"text":"1 kg/m² (0.2 lb/ft²) por hora, medidas pre-"},
{"line":2,"indent":0,"text":"ventivas, tales como parabrisas, son obligato-"},
{"line":3,"indent":0,"text":"rias. En algunas mezclas de concreto, tales"},
{"line":4,"indent":0,"text":"como aquéllas que contienen puzolanas, la"},
{"line":5,"indent":0,"text":"fisuración puede ocurrir cuando la tasa de"},
{"line":6,"indent":0,"text":"evaporación excede 0.5 kg/m² (0.1 lb/ft²)"},
{"line":7,"indent":0,"text":"por hora. El concreto con humo de sílice es"},
{"line":8,"indent":0,"text":"especialmente propenso a la fisuración por"},
{"line":9,"indent":0,"text":"retracción plástica, pues la tasa de sangrado"},
{"line":10,"indent":0,"text":"es normalmente sólo 0.25 kg/m² (0.05 lb/ft²)"},
{"line":11,"indent":0,"text":"por hora. Por lo tanto, cuando la velocidad"},
{"line":12,"indent":0,"text":"de evaporación es baja, es esencial la protec-"},
{"line":13,"indent":0,"text":"ción contra el secado prematuro. En cierto"},
{"line":14,"indent":0,"text":"momento del endurecimiento, la tasa de exu-"},
{"line":15,"indent":0,"text":"dación llega a cero y la superficie empieza a"},
{"line":16,"indent":0,"text":"secar con una tasa de evaporación bien más"},
{"line":17,"indent":0,"text":"baja que las típicamente especificadas de"}
]},"mark":{"type":"text","font":"Liberation Serif","fontSize":15.8,"align":"left","baseline":"middle","color":"#1a1a1a"},
 "encoding":{"x":{"field":"indent","type":"quantitative","scale":{"domain":[0,1],"range":[467,508],"nice":false,"zero":false},"axis":null},"y":{"field":"line","type":"quantitative","scale":{"domain":[0,17],"range":[673,1011.3],"nice":false,"zero":false},"axis":null},"text":{"field":"text"}}}
]}
]
}
